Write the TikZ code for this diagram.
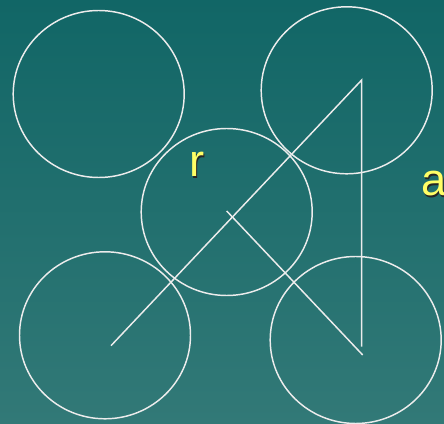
\documentclass[tikz,border=0pt]{standalone}
\usepackage{fontspec}
\setmainfont{Liberation Sans}
\usetikzlibrary{positioning}
\definecolor{bgtop}{RGB}{17,102,102}
\definecolor{bgbot}{RGB}{50,121,119}
\definecolor{rimcol}{RGB}{236,236,236}
\definecolor{labcol}{RGB}{255,255,102}
\tikzset{
  atom/.style={draw=rimcol,line width=1.1pt},
  bond/.style={draw=rimcol,line width=1.1pt},
  lab/.style={anchor=base west,inner sep=0pt,text=labcol,font=\fontsize{34}{34}\selectfont},
  labshadow/.style={anchor=base west,inner sep=0pt,text=black!85,font=\fontsize{34}{34}\selectfont}
}

\begin{document}
\begin{tikzpicture}[x=0.75pt,y=-0.75pt]
\useasboundingbox (0,0) rectangle (444,424);
\shade[top color=bgtop,bottom color=bgbot] (0,0) rectangle (444,424);
% the five spheres
\coordinate (TL) at (98.7,94);
\coordinate (TR) at (346.7,90.3);
\coordinate (M) at (226.7,212);
\coordinate (BL) at (105,335.3);
\coordinate (BR) at (355.7,340);
\foreach \c in {TL,TR,M,BL,BR}{\draw[atom] (\c) ellipse [x radius=85.5,y radius=83.5];}
% body diagonal and edge
\coordinate (P) at (111,345.7);
\coordinate (A) at (361.7,80);
\coordinate (B) at (361.7,346.7);
\coordinate (C) at (226.7,211);
\coordinate (D) at (362.7,355);
\draw[bond] (P)--(A)--(B);
\draw[bond] (C)--(D);
% labels
\node[labshadow] (rs) at (190.5,178.2) {r};
\node[lab] (r) at (189,176.7) {r};
\node[labshadow] (as) at (422.5,197.5) {a};
\node[lab] (a) at (421,196) {a};
\end{tikzpicture}
\end{document}
